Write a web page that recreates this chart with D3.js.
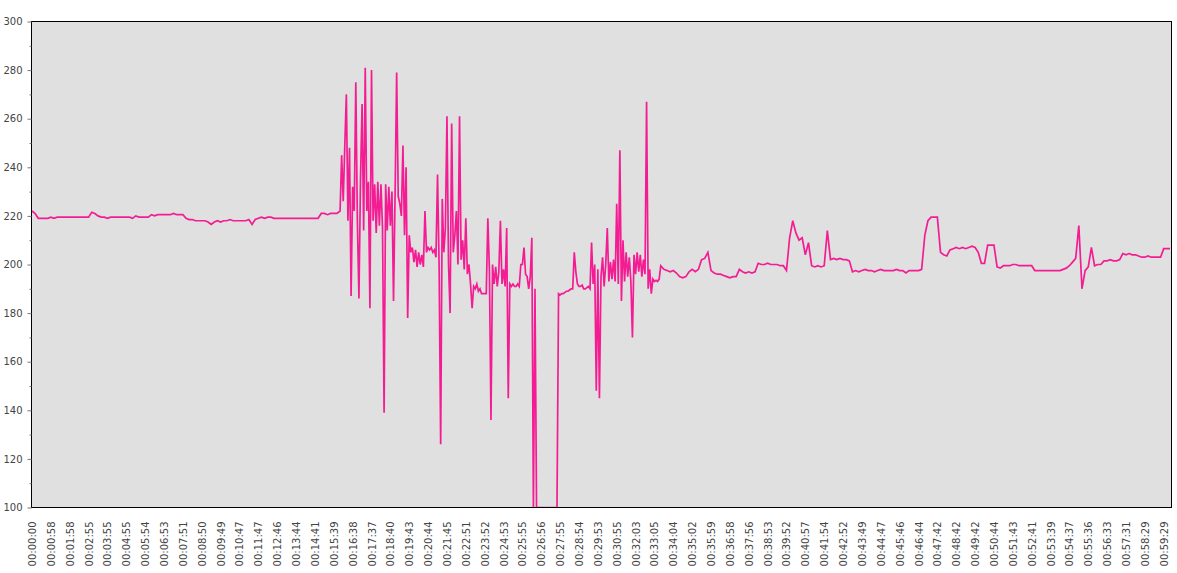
<!DOCTYPE html>
<html>
<head>
<meta charset="utf-8">
<script src="https://cdn.jsdelivr.net/npm/d3@7"></script>
<style>
  html, body { margin: 0; padding: 0; background: #ffffff; }
  svg { display: block; }
</style>
</head>
<body>
<svg id="chart" width="1177" height="573"></svg>
<script>
// ---- data ----
// Samples are on a regular index (6 samples per x label); the burst section is read at half-sample detail.
const valuesStart = [
  222, 221, 219, 219, 219, 219,
  219.5, 219, 219.5, 219.5, 219.5, 219.5,
  219.5, 219.5, 219.5, 219.5, 219.5, 219.5,
  219.5, 221.5, 221, 220, 219.5, 219.5,
  219, 219.5, 219.5, 219.5, 219.5, 219.5,
  219.5, 219.5, 219, 220, 219.5, 219.5,
  219.5, 219.5, 220.5, 220, 220.5, 220.5,
  220.5, 220.5, 220.5, 221, 220.5, 220.5,
  220.5, 219, 218.5, 218.5, 218, 218,
  218, 218, 217.5, 216.5, 217.5, 218,
  217.5, 218, 218, 218.5, 218, 218,
  218, 218, 218, 218.5, 216.5, 218.5,
  219, 219.5, 219, 219.5, 219.5, 219,
  219, 219, 219, 219, 219, 219,
  219, 219, 219, 219, 219, 219,
  219, 219, 221, 221, 220.5, 221,
  221, 221
];
const valuesBurst = [
  222, 245, 226, 249, 270, 218, 248, 187, 232, 222,
  275, 218, 186, 235, 266, 214, 281, 222, 234, 182,
  280, 218, 233, 213, 234, 216, 233, 215, 139, 233,
  214, 232, 216, 230, 185, 229, 279, 228, 225, 220,
  249, 212, 240, 178, 212, 205, 207, 201, 206, 199,
  205, 200, 204, 199, 222, 205, 207, 206, 207, 205,
  206, 203, 237, 200, 126, 227, 205, 215, 261, 200,
  180, 258, 205, 212, 222, 200, 261, 202, 210, 198,
  219, 196, 200, 192, 182, 191, 190, 192, 189, 190,
  188, 188, 188, 188, 219, 198, 136, 200, 192, 199,
  191, 197, 218, 192, 198, 191, 215, 145, 192, 191,
  192, 191, 191, 192, 191, 200, 200, 207, 196, 195,
  190, 195, 211, 100, 190, 100, 100, 100, 100, 100,
  100, 100, 100, 100, 100, 100, 100, 100, 100, 188,
  187.5, 188, 188, 188.5, 189, 189, 189.5, 190, 190, 205,
  197, 192, 191, 191, 191.5, 190, 190, 190.5, 191, 190,
  209, 192, 200, 148, 198, 145, 195, 203, 191, 200,
  215, 193, 201, 194, 202, 193, 225, 192, 247, 185,
  210, 193, 205, 195, 203, 193, 170, 204, 196, 205,
  197, 204, 195, 202, 196, 267, 190, 198, 188, 194,
  193, 193.5, 193, 194, 199.5
];
const valuesEnd = [
  198, 197.5, 197,
  197.5, 196.5, 195, 194.5, 195, 197,
  198, 197, 198, 202, 202.5, 205,
  197.5, 196.5, 196, 196, 195.5, 195,
  194.5, 195, 195, 198, 197, 196.5,
  197, 196.5, 197, 200.5, 200, 200,
  200.5, 200, 200, 200, 199.5, 199.5,
  197.5, 211, 218, 213, 210, 211,
  204, 209, 199.5, 199, 199.5, 199,
  199.5, 214, 202, 202.5, 202, 202.5,
  202, 202, 201.5, 197, 197.5, 197,
  197.5, 198, 197.5, 197.5, 197, 197.5,
  198, 197.5, 197.5, 197.5, 197.5, 198,
  197.5, 197.5, 196.5, 197.5, 197.5, 197.5,
  197.5, 198, 212, 218, 219.5, 219.5,
  219.5, 205, 204, 203.5, 206, 206.5,
  207, 206.5, 207, 206.5, 207, 207.5,
  207, 205, 200.5, 200.5, 208, 208,
  208, 199, 198.5, 199.5, 199.5, 199.5,
  200, 200, 199.5, 199.5, 199.5, 199.5,
  199.5, 197.5, 197.5, 197.5, 197.5, 197.5,
  197.5, 197.5, 197.5, 197.5, 198, 198.5,
  199.5, 201, 202.5, 216, 190, 197.5,
  199, 207, 199.5, 200, 200, 201.5,
  201.5, 202, 201.5, 201.5, 202, 204.5,
  204, 204.5, 204, 204, 203.5, 203,
  203, 203.5, 203, 203, 203, 203,
  206.5, 206.5, 206.5
];

const timeLabels = [
  "00:00:00","00:00:58","00:01:58","00:02:55","00:03:55","00:04:55","00:05:54","00:06:53",
  "00:07:51","00:08:50","00:09:49","00:10:47","00:11:47","00:12:46","00:13:44","00:14:41",
  "00:15:39","00:16:38","00:17:37","00:18:40","00:19:43","00:20:44","00:21:45","00:22:51",
  "00:23:52","00:24:53","00:25:55","00:26:56","00:27:55","00:28:54","00:29:53","00:30:55",
  "00:32:03","00:33:05","00:34:04","00:35:02","00:35:59","00:36:58","00:37:56","00:38:53",
  "00:39:52","00:40:57","00:41:54","00:42:52","00:43:49","00:44:47","00:45:46","00:46:44",
  "00:47:42","00:48:42","00:49:42","00:50:44","00:51:43","00:52:41","00:53:39","00:54:37",
  "00:55:36","00:56:33","00:57:31","00:58:29","00:59:29"
];

const yMajorTicks = [100, 120, 140, 160, 180, 200, 220, 240, 260, 280, 300];
const yMinorTicks = [110, 130, 150, 170, 190, 210, 230, 250, 270, 290];
const samplesPerLabel = 6;

// ---- build sample points (index, value) ----
const burstStart = valuesStart.length;                       // sample 98
const endStart = burstStart + (valuesBurst.length - 1) / 2 + 1; // sample 201
const points = [];
valuesStart.forEach((v, i) => points.push({ s: i, v }));
valuesBurst.forEach((v, i) => points.push({ s: burstStart + i / 2, v }));
valuesEnd.forEach((v, i) => points.push({ s: endStart + i, v }));
const lastSample = endStart + valuesEnd.length - 1;

// ---- layout ----
const plot = { left: 31.5, top: 21.5, right: 1171.5, bottom: 507.5 };
const svg = d3.select("#chart");
const font = "DejaVu Sans, sans-serif";

const x = d3.scaleLinear().domain([0, lastSample]).range([32, 1170]);
const y = d3.scaleLinear().domain([100, 300]).range([plot.bottom, plot.top]);

svg.append("rect")
  .attr("x", plot.left).attr("y", plot.top)
  .attr("width", plot.right - plot.left).attr("height", plot.bottom - plot.top)
  .attr("fill", "#e0e0e0");

svg.append("defs").append("clipPath").attr("id", "clip")
  .append("rect")
  .attr("x", plot.left).attr("y", plot.top)
  .attr("width", plot.right - plot.left).attr("height", plot.bottom - plot.top - 0.5);

const line = d3.line().x(d => x(d.s)).y(d => y(d.v));
svg.append("path")
  .datum(points)
  .attr("clip-path", "url(#clip)")
  .attr("fill", "none")
  .attr("stroke", "#f41c93")
  .attr("stroke-width", 1.7)
  .attr("stroke-linejoin", "miter")
  .attr("d", line);

svg.append("rect")
  .attr("x", plot.left).attr("y", plot.top)
  .attr("width", plot.right - plot.left).attr("height", plot.bottom - plot.top)
  .attr("fill", "none").attr("stroke", "#000").attr("stroke-width", 1);

// y axis
const yAxis = d3.axisLeft(y).tickValues(yMajorTicks).tickSize(4).tickPadding(5).tickFormat(d3.format("d"));
const gy = svg.append("g").attr("transform", `translate(${plot.left},0)`).call(yAxis);
gy.select(".domain").remove();
gy.selectAll(".tick line").attr("stroke", "#777");
gy.selectAll(".tick text").attr("fill", "#444").style("font-family", font).style("font-size", "10px");

const yMinor = d3.axisLeft(y).tickValues(yMinorTicks).tickSize(2).tickFormat("");
const gym = svg.append("g").attr("transform", `translate(${plot.left},0)`).call(yMinor);
gym.select(".domain").remove();
gym.selectAll(".tick line").attr("stroke", "#777");

// x axis labels
const xTickIdx = timeLabels.map((_, i) => i * samplesPerLabel);
const xAxis = d3.axisBottom(x).tickValues(xTickIdx).tickSize(0)
  .tickFormat((d, i) => timeLabels[i]);
const gx = svg.append("g").attr("transform", `translate(0,${plot.bottom})`).call(xAxis);
gx.select(".domain").remove();
gx.selectAll(".tick text")
  .attr("fill", "#444")
  .style("font-family", font).style("font-size", "10px")
  .attr("text-anchor", "end")
  .attr("transform", "rotate(-90)")
  .attr("x", -14).attr("y", 0).attr("dy", "0.35em");
</script>
</body>
</html>
